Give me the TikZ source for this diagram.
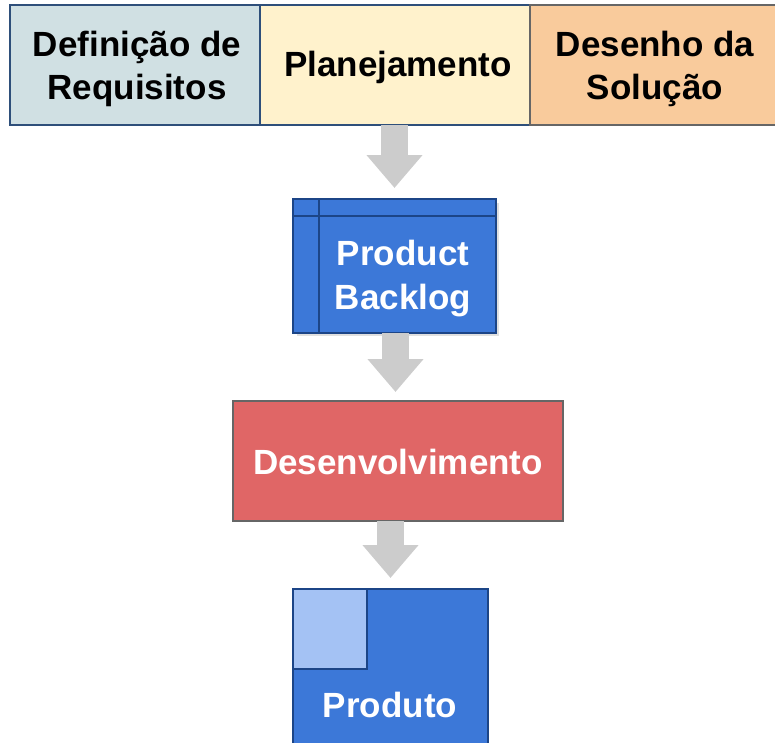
\documentclass[tikz,border=0pt]{standalone}
\usepackage{fontspec}
\setmainfont{Liberation Sans}
\usetikzlibrary{arrows.meta}
\definecolor{reqfill}{HTML}{D0E0E3}
\definecolor{planfill}{HTML}{FFF2CC}
\definecolor{desfill}{HTML}{F9CB9C}
\definecolor{blueA}{HTML}{3C78D8}
\definecolor{blueB}{HTML}{1C4587}
\definecolor{blueL}{HTML}{A4C2F4}
\definecolor{redA}{HTML}{E06666}
\definecolor{arrowgrey}{HTML}{CCCCCC}
\definecolor{edgegrey}{HTML}{666666}
\definecolor{topedge}{HTML}{2E4F7A}
\tikzset{
  phase/.style={draw=topedge, line width=1.5pt, minimum height=120pt, outer sep=0pt, inner sep=0pt},
  phasetext/.style={align=center, font=\fontsize{35}{43}\selectfont\bfseries, text=black, inner sep=0pt},
  bluebox/.style={draw=blueB, fill=blueA, line width=1.5pt, outer sep=0pt, inner sep=0pt},
  whitetext/.style={text=white, align=center, font=\fontsize{35}{44}\selectfont\bfseries},
  flow/.style={draw=arrowgrey, line width=27pt, -{Triangle[length=33pt,width=54pt]}, shorten >=11pt}
}
\begin{document}
\begin{tikzpicture}[x=1pt,y=-1pt]
\useasboundingbox (0,0) rectangle (775,742);
\clip (0,0) rectangle (775,742);
% top phases
\node[phase, fill=reqfill, minimum width=250pt] (req) at (135,65) {};
\node[phase, fill=planfill, minimum width=270pt] (plan) at (395,65) {};
\node[phase, fill=desfill, draw=edgegrey, minimum width=255pt] (des) at (657.5,65) {};
\node[phasetext] (reqtext) at (137,69) {Definição de\\Requisitos};
\node[phasetext] (plantext) at (398,67) {Planejamento};
\node[phasetext] (destext) at (655,69) {Desenho da\\Solução};
% product backlog
\fill[arrowgrey!60] (297,203) rectangle (499,336);
\node[bluebox, minimum width=203pt, minimum height=134pt] (pb) at (394.5,266) {};
\draw[blueB, line width=1.5pt] (pb.north west) ++(0,17) -- ++(203,0);
\draw[blueB, line width=1.5pt] (pb.north west) ++(26,0) -- ++(0,134);
\node[whitetext] (pbtext) at (403,279) {Product\\Backlog};
% desenvolvimento
\node[draw=edgegrey, fill=redA, line width=1.5pt, minimum width=330pt, minimum height=120pt, outer sep=0pt] (dev) at (398,461) {};
\node[whitetext] (devtext) at (398,462) {Desenvolvimento};
% produto
\node[bluebox, minimum width=195pt, minimum height=170pt] (prod) at (390.5,674) {};
\node[draw=blueB, fill=blueL, line width=1.5pt, minimum width=74pt, minimum height=80pt, outer sep=0pt, anchor=north west] (sq) at (prod.north west) {};
\node[whitetext] (prodtext) at (390,705) {Produto};
% arrows
\draw[flow] (pb.north |- plan.south) -- (pb.north);
\draw[flow, shorten >=9pt] (pb.south) ++(1,0) coordinate (a2) (a2) -- (a2 |- dev.north);
\draw[flow] (prod.north |- dev.south) -- (prod.north);
\end{tikzpicture}
\end{document}
